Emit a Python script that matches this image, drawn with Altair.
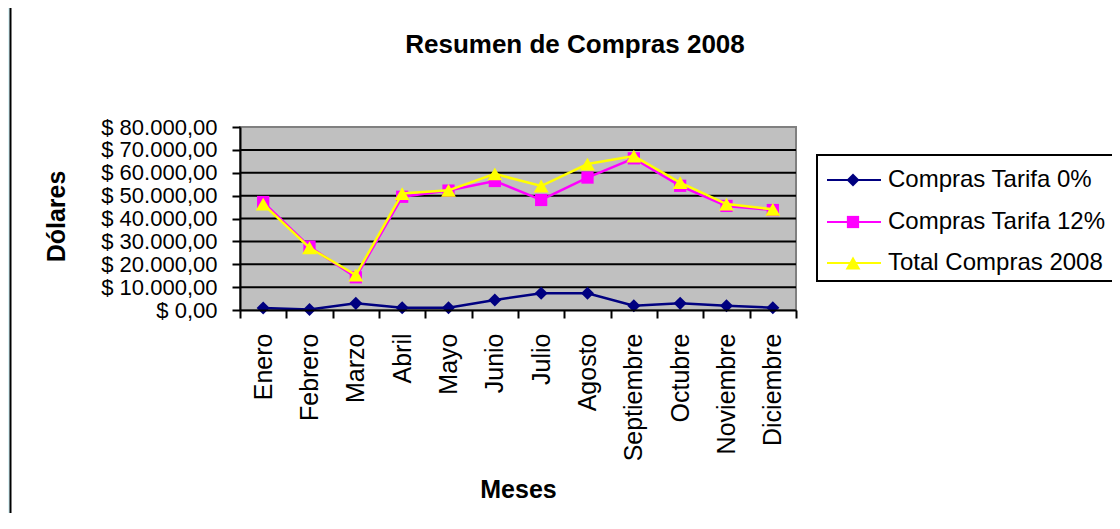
import altair as alt
import pandas as pd

# ---- data ----
months = ["Enero", "Febrero", "Marzo", "Abril", "Mayo", "Junio", "Julio",
          "Agosto", "Septiembre", "Octubre", "Noviembre", "Diciembre"]
series_names = ["Compras Tarifa 0%", "Compras Tarifa 12%", "Total Compras 2008"]
tarifa0 = [900, 200, 2900, 1000, 1000, 4400, 7300, 7300, 1900, 2900, 1900, 1000]
tarifa12 = [47200, 27700, 14300, 49500, 52200, 56400, 48100, 57900, 66300, 54300, 45500, 43700]
total = [46300, 27200, 15300, 50900, 52300, 59500, 54200, 63800, 67300, 55700, 46300, 44000]
y_ticks = [0, 10000, 20000, 30000, 40000, 50000, 60000, 70000, 80000]
grid_vals = [10000, 20000, 30000, 40000, 50000, 60000, 70000]
chart_title = "Resumen de Compras 2008"
x_title = "Meses"
y_title = "Dólares"

# ---- styles ----
FONT = "Liberation Sans"
colors = ["#000080", "#FF00FF", "#FFFF00"]
shapes = ["diamond", "square", "triangle-up"]
sizes = [170, 150, 220]
W, H = 556, 183

values = [tarifa0, tarifa12, total]
yscale = alt.Scale(domain=[0, 80000], nice=False, zero=True)
xscale = alt.Scale(type="band", domain=months, paddingInner=0, paddingOuter=0)

x_axis = alt.Axis(
    title=x_title, labelAngle=-90, labelAlign="right", labelBaseline="middle",
    tickBand="extent", tickSize=8, tickWidth=2, tickColor="black",
    domainColor="black", domainWidth=2, labelFont=FONT, labelFontSize=25,
    labelColor="black", labelPadding=15, labelOverlap=False, labelBound=False,
    titleFont=FONT, titleFontSize=25, titleFontWeight="bold", titleColor="black",
    titleY=187, titleBaseline="alphabetic", grid=False, zindex=1)

y_axis = alt.Axis(
    title=y_title, values=y_ticks,
    labelExpr='"$ " + replace(replace(replace(format(datum.value, ",.2f"), ",", "_"), ".", ","), "_", ".")',
    tickSize=8, tickWidth=2, tickColor="black", domainColor="black", domainWidth=2,
    labelFont=FONT, labelFontSize=22, labelColor="black", labelPadding=15,
    labelOverlap=False, labelBound=False,
    titleFont=FONT, titleFontSize=25, titleFontWeight="bold", titleColor="black",
    titleX=-176, titleY=89, titleBaseline="alphabetic", titleAlign="center",
    grid=False, zindex=1)

one = pd.DataFrame({"k": [0]})

# white panel with black left border
panel = alt.Chart(one).mark_rect(fill="white", stroke="black", strokeWidth=2).encode(
    x=alt.value(-229.5), x2=alt.value(1200), y=alt.value(-300), y2=alt.value(700))

# gray plot area
plot_bg = alt.Chart(one).mark_rect(fill="#C0C0C0", stroke="#808080", strokeWidth=2).encode(
    x=alt.value(0), x2=alt.value(W), y=alt.value(0), y2=alt.value(H))

grid = alt.Chart(pd.DataFrame({"g": grid_vals})).mark_rule(color="black", strokeWidth=2).encode(
    y=alt.Y("g:Q", scale=yscale, axis=y_axis))

layers = [panel, plot_bg, grid]

for i, name in enumerate(series_names):
    df = pd.DataFrame({"mes": months, "valor": values[i]})
    xenc = alt.X("mes:N", sort=months, scale=xscale, bandPosition=0.5, axis=x_axis)
    yenc = alt.Y("valor:Q", scale=yscale, axis=y_axis)
    line = alt.Chart(df).mark_line(color=colors[i], strokeWidth=2.5).encode(x=xenc, y=yenc)
    pts = alt.Chart(df).mark_point(filled=True, shape=shapes[i], size=sizes[i],
                                   color=colors[i], opacity=1).encode(x=xenc, y=yenc)
    layers += [line, pts]

# legend box
leg_box = alt.Chart(one).mark_rect(fill="white", stroke="black", strokeWidth=2).encode(
    x=alt.value(577), x2=alt.value(1000), y=alt.value(28), y2=alt.value(154))
layers.append(leg_box)
row_y = [53, 95, 136]
for i, name in enumerate(series_names):
    d = pd.DataFrame({"serie": [name]})
    layers.append(alt.Chart(d).mark_rule(color=colors[i], strokeWidth=2).encode(
        x=alt.value(587), x2=alt.value(641), y=alt.value(row_y[i])))
    layers.append(alt.Chart(d).mark_point(filled=True, shape=shapes[i], size=sizes[i],
                                          color=colors[i], opacity=1).encode(
        x=alt.value(613), y=alt.value(row_y[i])))
    layers.append(alt.Chart(d).mark_text(align="left", baseline="middle", font=FONT,
                                         fontSize=24, color="black").encode(
        x=alt.value(648), y=alt.value(row_y[i]), text="serie:N"))

title_mark = alt.Chart(pd.DataFrame({"t": [chart_title]})).mark_text(
    align="center", baseline="alphabetic", font=FONT, fontSize=26, fontWeight="bold",
    color="black").encode(x=alt.value(335), y=alt.value(-74), text="t:N")
layers.append(title_mark)

chart = alt.layer(*layers).properties(
    width=W, height=H,
    padding={"left": 232, "top": 119, "right": 316, "bottom": 203},
    autosize=alt.AutoSizeParams(type="none"),
    background="#DDF4F8",
).configure_view(stroke=None, fill=None)

chart.save("out.html", embed_options={"renderer": "svg", "actions": False})
